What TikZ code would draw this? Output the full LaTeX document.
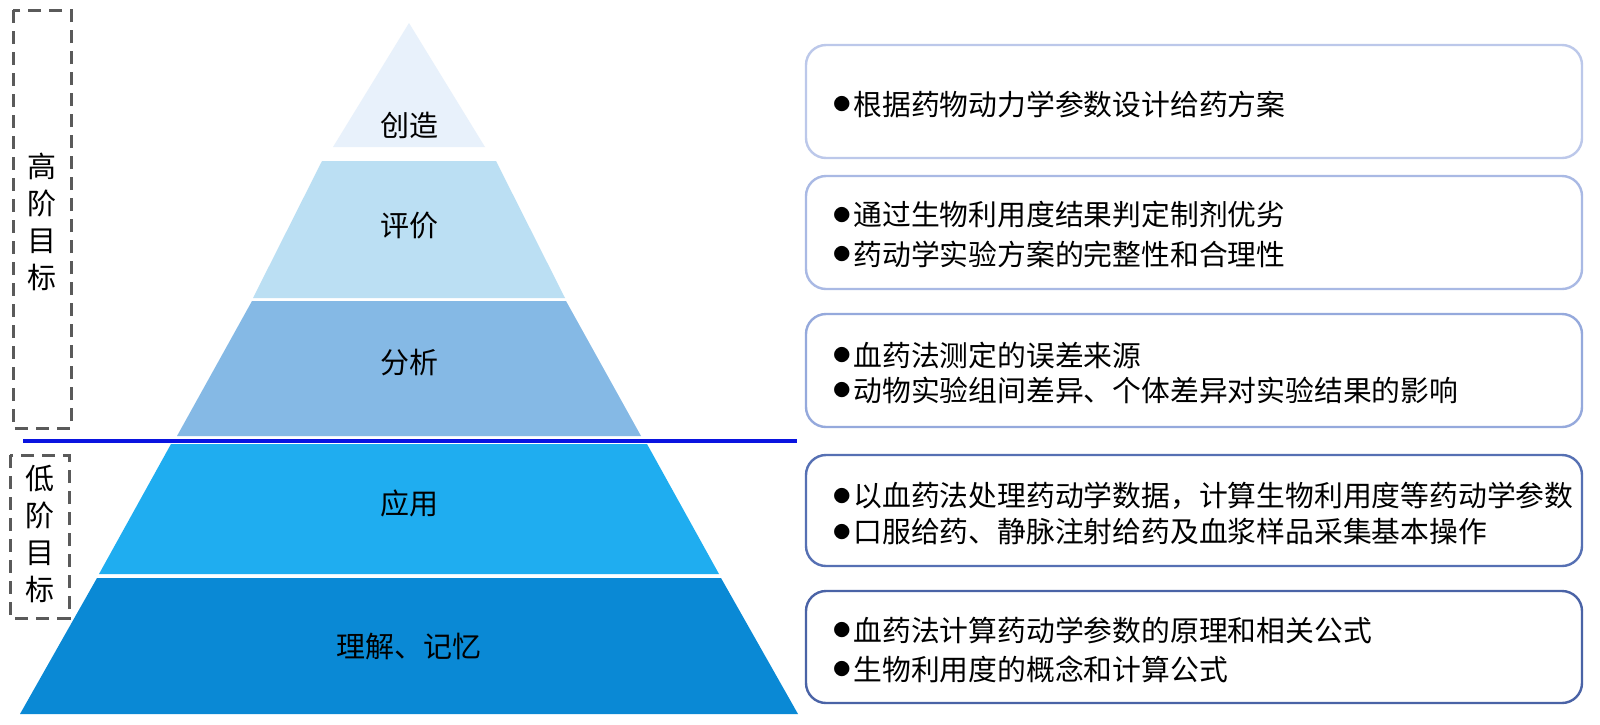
\documentclass[tikz,border=0pt]{standalone}
\usepackage{fontspec}
\setmainfont{Noto Sans CJK SC}
\definecolor{lvA}{HTML}{E8F1FB}
\definecolor{lvB}{HTML}{BBDFF3}
\definecolor{lvC}{HTML}{85B9E5}
\definecolor{lvD}{HTML}{1FADF0}
\definecolor{lvE}{HTML}{0A89D5}
\definecolor{bxA}{HTML}{BCC8EA}
\definecolor{bxB}{HTML}{A9B9E4}
\definecolor{bxC}{HTML}{95A9DC}
\definecolor{bxD}{HTML}{5670B3}
\definecolor{bxE}{HTML}{4A63A6}
\definecolor{dashgray}{HTML}{5A5A5A}
\definecolor{sepblue}{HTML}{0A14E0}
\newcommand\mybul{\raisebox{2.2pt}{\fontsize{8.5}{8.5}\selectfont ●}\hspace{1.5pt}}
\begin{document}
\begin{tikzpicture}[x=0.5pt,y=-0.5pt,
  lbl/.style={font=\fontsize{14.5}{17}\selectfont, text=black, inner sep=0pt},
  vlbl/.style={font=\fontsize{14.5}{18.5}\selectfont, align=center, text=black, inner sep=0pt},
  dbox/.style={draw=dashgray, line width=1.5pt, dash pattern=on 6.5pt off 4pt},
  rbox/.style={draw, line width=1.2pt, rounded corners=10pt, fill=white},
  btxt/.style={anchor=west, font=\fontsize{14.4}{17}\selectfont, text=black, inner sep=0pt}]
\useasboundingbox (0,0) rectangle (1600,724);
\fill[white] (0,0) rectangle (1600,724);

% pyramid layers
\fill[lvA] (409,23) -- (485,147) -- (333,147) -- cycle;
\fill[lvB] (322,161) -- (496,161) -- (565,298) -- (253,298) -- cycle;
\fill[lvC] (252,301) -- (566,301) -- (641,436) -- (177,436) -- cycle;
\fill[lvD] (171,444) -- (647,444) -- (719,574) -- (99,574) -- cycle;
\fill[lvE] (97,578) -- (721,578) -- (798,714) -- (20,714) -- cycle;

\node[lbl] (p1) at (409,125) {创造};
\node[lbl] (p2) at (409,226) {评价};
\node[lbl] (p3) at (409,363) {分析};
\node[lbl] (p4) at (409,503) {应用};
\node[lbl] (p5) at (409,646) {理解、记忆};

% separator line
\coordinate (sepL) at (23,441);
\coordinate (sepR) at (797,441);
\draw[sepblue, line width=2pt] (sepL) -- (sepR);

% dashed groups
\draw[dbox] (13,10) rectangle (71,428);
\node[vlbl] (hi) at (42,222) {高\\阶\\目\\标};
\draw[dbox] (10,455) rectangle (69,618);
\node[vlbl] (lo) at (40,534) {低\\阶\\目\\标};

% right boxes
\draw[rbox, draw=bxA] (806,45) rectangle (1582,158);
\draw[rbox, draw=bxB] (806,176) rectangle (1582,289);
\draw[rbox, draw=bxC] (806,314) rectangle (1582,427);
\draw[rbox, draw=bxD] (806,455) rectangle (1582,566);
\draw[rbox, draw=bxE] (806,591) rectangle (1582,703);

\node[btxt] (t1a) at (833,104) {\mybul 根据药物动力学参数设计给药方案};
\node[btxt] (t2a) at (833,215) {\mybul 通过生物利用度结果判定制剂优劣};
\node[btxt] (t2b) at (833,254) {\mybul 药动学实验方案的完整性和合理性};
\node[btxt] (t3a) at (833,355) {\mybul 血药法测定的误差来源};
\node[btxt] (t3b) at (833,390) {\mybul 动物实验组间差异、个体差异对实验结果的影响};
\node[btxt] (t4a) at (833,496) {\mybul 以血药法处理药动学数据，计算生物利用度等药动学参数};
\node[btxt] (t4b) at (833,532) {\mybul 口服给药、静脉注射给药及血浆样品采集基本操作};
\node[btxt] (t5a) at (833,630) {\mybul 血药法计算药动学参数的原理和相关公式};
\node[btxt] (t5b) at (833,669) {\mybul 生物利用度的概念和计算公式};
\end{tikzpicture}
\end{document}
